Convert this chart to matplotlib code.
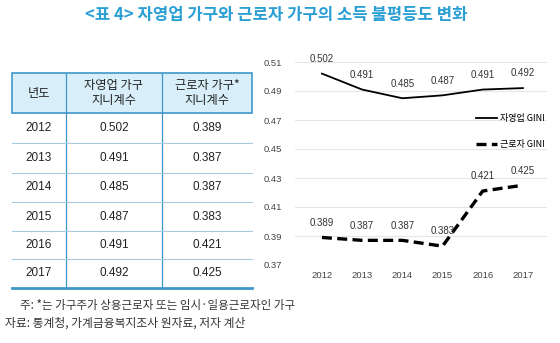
import matplotlib.pyplot as plt
from matplotlib.lines import Line2D
from matplotlib.patches import Rectangle

plt.rcParams['font.family'] = ['Noto Sans CJK KR', 'DejaVu Sans']

# data
years = [2012, 2013, 2014, 2015, 2016, 2017]
self_employed = [0.502, 0.491, 0.485, 0.487, 0.491, 0.492]
wage_workers = [0.389, 0.387, 0.387, 0.383, 0.421, 0.425]
col_headers = ['년도', '자영업 가구\n지니계수', '근로자 가구*\n지니계수']
legend_labels = ['자영업 GINI', '근로자 GINI']
y_ticks = [0.37, 0.39, 0.41, 0.43, 0.45, 0.47, 0.49, 0.51]

W, H = 560, 343
fig = plt.figure(figsize=(W / 100, H / 100), dpi=100)


def fx(px):
    return px / W


def fy(py):
    return 1 - py / H


blue = '#3f97c9'
num_font = ['Liberation Sans', 'Noto Sans CJK KR']

# title
fig.text(fx(276), fy(15), '<표 4> 자영업 가구와 근로자 가구의 소득 불평등도 변화',
         ha='center', va='center', fontsize=12, fontweight='bold', color='#2a9fd4')

# table drawn in figure pixel coords
cols = [12, 66, 162, 252]
hdr_top, hdr_bot = 73, 113
row_lines = [113, 143, 173, 202, 231, 259, 288]
fig.patches.append(Rectangle((fx(cols[0]), fy(hdr_bot)), fx(cols[-1] - cols[0]),
                             (hdr_bot - hdr_top) / H, transform=fig.transFigure,
                             facecolor='#d8eef8', edgecolor=blue, linewidth=1.2))
for x in cols[1:-1]:
    fig.add_artist(Line2D([fx(x), fx(x)], [fy(hdr_top), fy(row_lines[-1])],
                          color=blue, linewidth=0.9))
for y in row_lines[1:-1]:
    fig.add_artist(Line2D([fx(cols[0]), fx(cols[-1])], [fy(y), fy(y)],
                          color='#a8c9dd', linewidth=0.8))
fig.add_artist(Line2D([fx(cols[0]), fx(cols[-1])], [fy(row_lines[-1])] * 2,
                      color=blue, linewidth=2))

centers = [(cols[i] + cols[i + 1]) / 2 for i in range(3)]
for c, h in zip(centers, col_headers):
    fig.text(fx(c), fy((hdr_top + hdr_bot) / 2), h, ha='center', va='center',
             fontsize=8.8, color='#222222', linespacing=1.2)
for i, yr in enumerate(years):
    yc = (row_lines[i] + row_lines[i + 1]) / 2
    vals = [str(yr), f'{self_employed[i]:.3f}', f'{wage_workers[i]:.3f}']
    for c, v in zip(centers, vals):
        fig.text(fx(c), fy(yc), v, ha='center', va='center', fontsize=8.5,
                 color='#222222', family=num_font)

# line chart
ax = fig.add_axes([fx(295), fy(265), fx(547 - 295), (265 - 62) / H])
ax.plot(years, self_employed, color='black', linewidth=1.3, label=legend_labels[0],
        clip_on=False)
ax.plot(years, wage_workers, color='black', linewidth=2.4, linestyle=(0, (3, 1.6)),
        label=legend_labels[1], clip_on=False)
for x, v in zip(years, self_employed):
    ax.annotate(f'{v:.3f}', (x, v), xytext=(0, 7), textcoords='offset points',
                ha='center', va='bottom', fontsize=7, color='#333333', family=num_font)
for x, v in zip(years, wage_workers):
    ax.annotate(f'{v:.3f}', (x, v), xytext=(0, 7), textcoords='offset points',
                ha='center', va='bottom', fontsize=7, color='#333333', family=num_font)

ax.set_xlim(2011.33, 2017.6)
ax.set_ylim(0.37, 0.51)
ax.set_yticks(y_ticks)
ax.set_yticklabels([f'{t:.2f}' for t in y_ticks], family=num_font)
ax.set_xticks(years)
ax.set_xticklabels([str(y) for y in years], family=num_font)
ax.tick_params(length=0, labelsize=6.8, labelcolor='#444444')
ax.tick_params(axis='y', pad=9)
ax.tick_params(axis='x', pad=4)
ax.grid(axis='y', color='#e6e6e6', linewidth=0.8)
ax.set_axisbelow(True)
for s in ax.spines.values():
    s.set_visible(False)

ax.legend(loc='upper left', bbox_to_anchor=(fx(468), fy(106)),
          bbox_transform=fig.transFigure, frameon=False, fontsize=6.5,
          handlelength=2.3, handletextpad=0.3, labelspacing=1.9)

# footnotes
fig.text(fx(20), fy(305), '주: *는 가구주가 상용근로자 또는 임시·일용근로자인 가구',
         ha='left', va='center', fontsize=8.3, color='#333333')
fig.text(fx(5), fy(323), '자료: 통계청, 가계금융복지조사 원자료, 저자 계산',
         ha='left', va='center', fontsize=8.5, color='#333333')

fig.savefig('out.png', dpi=100)
